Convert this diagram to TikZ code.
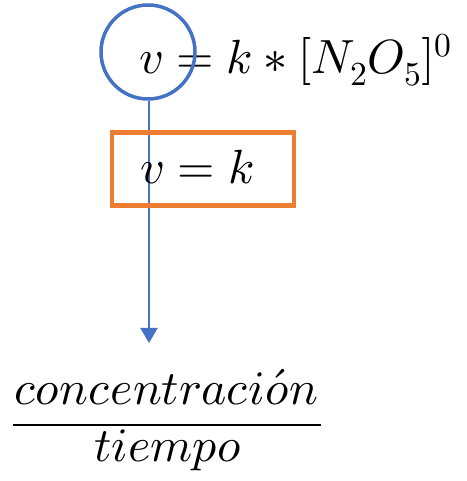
\documentclass[tikz,border=0pt]{standalone}
\usepackage{unicode-math}
\usetikzlibrary{arrows.meta}
\definecolor{ablue}{HTML}{4472C4}
\definecolor{aorange}{HTML}{ED7D31}
\tikzset{
  txt/.style={inner sep=0pt, anchor=base, font=\fontsize{48}{58}\selectfont},
  ring/.style={draw=ablue, line width=3.5pt, circle, minimum size=94pt, inner sep=0pt},
  obox/.style={draw=aorange, line width=4.7pt, rectangle, minimum width=182pt, minimum height=73pt, inner sep=0pt},
  conn/.style={draw=ablue, line width=2pt, -{Triangle[length=15pt,width=17pt]}}
}
\begin{document}
\begin{tikzpicture}[x=1pt,y=1pt]
\useasboundingbox (0,0) rectangle (466,481);
\node[txt, anchor=base west] (eq) at (139,407) {$v=k\ast[N_2O_5]^0$};
\node[ring] (circ) at (148,429) {};
\coordinate (tip) at (149,138);
\draw[conn] (circ.south -| tip) -- (tip);
\node[obox] (box) at (203,312) {};
\node[txt] (vk) at (197.5,297) {$v=k$};
\node[txt] (num) at (166,76) {$concentraci\acute{o}n$};
\coordinate (fl) at (13,56);
\coordinate (fr) at (321,56);
\draw[line width=2.7pt] (fl) -- (fr);
\node[txt] (den) at (168,19) {$tiempo$};
\end{tikzpicture}
\end{document}
